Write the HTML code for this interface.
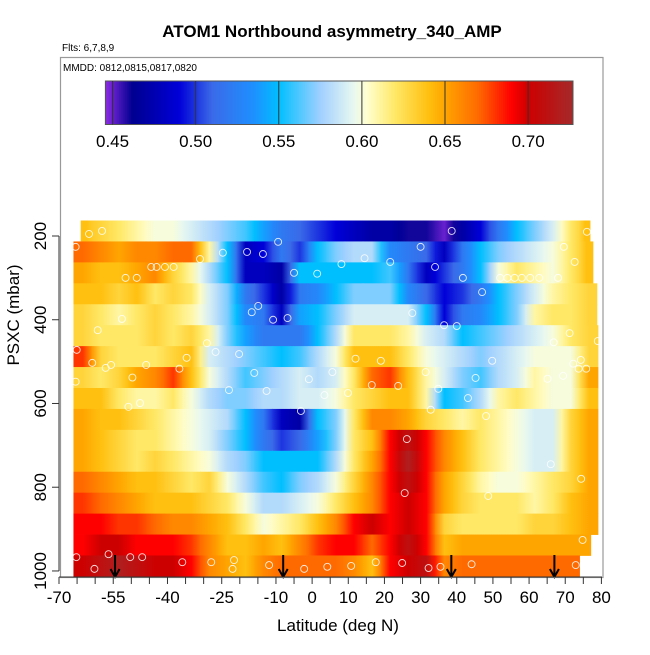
<!DOCTYPE html>
<html><head><meta charset="utf-8"><style>
body{margin:0;background:#fff;}
svg text{font-family:"Liberation Sans",sans-serif;}
</style></head><body>
<svg id="chart" width="650" height="650" xmlns="http://www.w3.org/2000/svg">
<defs id="defs"></defs>
<rect width="650" height="650" fill="#fff"/>
<text x="332" y="37" font-size="17" font-weight="bold" text-anchor="middle">ATOM1 Northbound asymmetry_340_AMP</text>
<text x="62" y="51" font-size="10">Flts: 6,7,8,9</text>
<g id="heat"></g>
<g id="pts"></g>
<g id="arrows"></g>
<rect x="60.5" y="57.5" width="542.5" height="520" fill="none" stroke="#999" stroke-width="1.2"/>
<text x="63" y="71" font-size="10">MMDD: 0812,0815,0817,0820</text>
<g id="cbar"></g>
<g id="axes"></g>
<text x="338" y="631" font-size="17" text-anchor="middle">Latitude (deg N)</text>
<text x="0" y="0" font-size="17" text-anchor="middle" transform="translate(19,315) rotate(-90)">PSXC (mbar)</text>
</svg>
<script>
// rows: pressure centres (mbar), 50 mbar thick
const rowPressures=[188,238,288,338,388,438,488,538,588,638,688,738,788,838,888,938,988];
const rowStart=[-64,-66,-66,-66,-66,-66,-66,-66,-66,-66,-66,-66,-66,-66,-66,-66,-66];
const rowEnd=[76.8,77.6,77.6,78.7,78.7,80,80,80,80,80,80,80,80,80,80,77,73.9];
const colStartLat=-66, colWidth=5;
const r0=[0.64,0.63,0.62,0.61,0.60,0.60,0.59,0.58,0.57,0.56,0.54,0.52,0.51,0.50,0.49,0.48,0.47,0.47,0.46,0.46,0.45,0.47,0.49,0.52,0.55,0.57,0.59,0.62,0.64];
const r1=[0.67,0.66,0.65,0.66,0.66,0.67,0.67,0.61,0.55,0.48,0.49,0.52,0.50,0.55,0.57,0.58,0.58,0.53,0.52,0.51,0.48,0.52,0.55,0.57,0.58,0.59,0.60,0.62,0.64];
const r2=[0.65,0.64,0.64,0.65,0.66,0.63,0.61,0.58,0.55,0.48,0.48,0.47,0.55,0.55,0.55,0.55,0.55,0.56,0.52,0.48,0.50,0.52,0.55,0.60,0.62,0.61,0.60,0.62,0.64];
const r3=[0.64,0.64,0.63,0.64,0.62,0.63,0.62,0.59,0.57,0.52,0.50,0.47,0.52,0.53,0.55,0.57,0.57,0.57,0.53,0.51,0.49,0.50,0.52,0.55,0.57,0.59,0.61,0.62,0.63];
const r4=[0.63,0.62,0.61,0.62,0.63,0.62,0.61,0.59,0.57,0.53,0.52,0.48,0.54,0.55,0.57,0.59,0.59,0.59,0.59,0.55,0.49,0.52,0.53,0.55,0.57,0.61,0.62,0.62,0.63];
const r5=[0.63,0.62,0.62,0.62,0.63,0.62,0.63,0.61,0.57,0.54,0.52,0.52,0.52,0.55,0.58,0.62,0.62,0.62,0.61,0.59,0.58,0.55,0.56,0.57,0.58,0.59,0.60,0.62,0.63];
const r6=[0.68,0.63,0.62,0.62,0.62,0.63,0.64,0.59,0.58,0.57,0.56,0.55,0.56,0.58,0.60,0.64,0.64,0.64,0.62,0.60,0.59,0.58,0.57,0.58,0.59,0.60,0.60,0.60,0.63];
const r7=[0.63,0.62,0.63,0.65,0.66,0.68,0.64,0.60,0.58,0.56,0.57,0.58,0.59,0.58,0.59,0.62,0.67,0.68,0.64,0.61,0.59,0.57,0.56,0.58,0.59,0.61,0.60,0.60,0.65];
const r8=[0.64,0.64,0.62,0.61,0.61,0.62,0.60,0.58,0.57,0.57,0.58,0.58,0.59,0.59,0.60,0.62,0.63,0.64,0.64,0.61,0.55,0.56,0.58,0.61,0.62,0.61,0.60,0.60,0.64];
const r9=[0.65,0.64,0.64,0.63,0.62,0.61,0.60,0.59,0.58,0.55,0.52,0.48,0.47,0.55,0.57,0.62,0.66,0.66,0.65,0.63,0.62,0.61,0.62,0.61,0.60,0.59,0.59,0.63,0.65];
const r10=[0.65,0.64,0.63,0.62,0.62,0.61,0.60,0.59,0.57,0.55,0.52,0.50,0.51,0.54,0.57,0.62,0.64,0.69,0.71,0.69,0.66,0.64,0.62,0.61,0.60,0.59,0.59,0.63,0.65];
const r11=[0.65,0.64,0.63,0.62,0.63,0.62,0.61,0.60,0.58,0.57,0.55,0.55,0.55,0.55,0.58,0.62,0.65,0.69,0.72,0.69,0.66,0.64,0.62,0.61,0.60,0.59,0.59,0.63,0.65];
const r12=[0.67,0.66,0.65,0.64,0.64,0.63,0.62,0.63,0.60,0.58,0.56,0.55,0.57,0.58,0.60,0.63,0.66,0.69,0.71,0.69,0.65,0.63,0.61,0.60,0.60,0.61,0.62,0.63,0.65];
const r13=[0.68,0.67,0.66,0.65,0.64,0.64,0.64,0.63,0.62,0.60,0.58,0.58,0.59,0.60,0.62,0.64,0.66,0.69,0.70,0.69,0.65,0.63,0.62,0.62,0.62,0.61,0.62,0.64,0.65];
const r14=[0.69,0.69,0.68,0.68,0.67,0.66,0.66,0.65,0.64,0.62,0.60,0.61,0.62,0.64,0.66,0.69,0.70,0.69,0.70,0.69,0.63,0.62,0.62,0.62,0.62,0.63,0.63,0.64,0.65];
const r15=[0.69,0.70,0.70,0.69,0.69,0.69,0.68,0.66,0.64,0.64,0.65,0.64,0.66,0.68,0.69,0.69,0.67,0.69,0.71,0.69,0.64,0.65,0.65,0.65,0.65,0.65,0.65,0.65,0.65];
const r16=[0.70,0.71,0.72,0.71,0.70,0.70,0.69,0.66,0.65,0.64,0.66,0.67,0.67,0.67,0.67,0.66,0.64,0.69,0.70,0.71,0.66,0.67,0.67,0.67,0.67,0.67,0.67,0.67,0.67];
const rows=[r0,r1,r2,r3,r4,r5,r6,r7,r8,r9,r10,r11,r12,r13,r14,r15,r16];
const ptLat=[-58.1,-61.7,-65.4,-31,-24.7,-18,-13.6,-9.4,30,38.6,69.6,76,-44.5,-43,-40.7,-38.3,-51.6,-48.5,-5,1.4,8.1,14.5,21.6,34,41.7,52,54,56,58,60.3,62.8,68,72.6,47,-14.9,-16.7,-10.8,-6.8,-52.6,27.7,36.5,40,-59.3,71.2,66.8,79,-29.1,-26.7,-20.2,-34.7,-45.9,-36.7,-49.7,-65.4,12,19,49.8,74.3,72.2,73.7,75.8,-16,-0.9,5.6,16.5,23.8,31.4,45.2,65.1,69.4,-23,-12.6,3.4,9.9,34.9,43.1,-50.8,-47.6,-3.1,32.8,48.1,26.2,66,74.4,25.6,48.7,74.8,-65.2,-56.3,-50.3,-47,-60.2,-35.9,-27.9,-21.6,-22,-11.9,-2.2,4.2,10.8,17.6,24.9,32.2,35.5,44.1,72.9,-65.1,-60.8,-57.1,-55.6];
const ptP=[188,195,226,255,240,238,243,214,226,188,226,190,274,274,274,274,300,300,288,290,267,253,262,274,300,300,300,300,300,300,300,300,262,334,367,382,400,396,398,384,413,415,425,432,454,451,456,477,482,491,508,517,538,548,493,498,498,496,505,517,517,527,542,525,556,558,525,539,541,534,568,570,580,575,565,587,608,599,618,615,630,685,745,780,814,821,926,967,960,967,967,995,979,979,974,995,986,995,990,988,979,981,993,990,984,986,472,503,515,508];
const arrowLat=[-54.5,-8,38.5,67];
const cbTicks=[0.45,0.50,0.55,0.60,0.65,0.70];
const xTicks=[-70,-55,-40,-25,-10,0,10,20,30,40,50,60,70,80];
const yTicks=[200,400,600,800,1000];

const NS="http://www.w3.org/2000/svg";
const xs=lat=>59+(lat+70)*3.616;
const ys=p=>236+(p-200)*0.4187;
const stops=[[0.446,[138,43,226]],[0.462,[0,0,144]],[0.49,[0,0,216]],[0.51,[58,106,232]],[0.535,[30,144,255]],[0.55,[0,191,255]],[0.575,[160,208,255]],[0.595,[232,248,240]],[0.603,[255,255,208]],[0.62,[255,232,102]],[0.64,[255,192,16]],[0.65,[255,165,0]],[0.67,[255,106,0]],[0.69,[255,0,0]],[0.70,[205,0,0]],[0.727,[165,42,42]]];
function col(v){
  if(v<=stops[0][0])return 'rgb('+stops[0][1]+')';
  for(let i=1;i<stops.length;i++){if(v<=stops[i][0]){const a=stops[i-1],b=stops[i];const t=(v-a[0])/(b[0]-a[0]);return 'rgb('+a[1].map((c,k)=>Math.round(c+(b[1][k]-c)*t)).join(',')+')';}}
  return 'rgb('+stops[stops.length-1][1]+')';
}
function mk(tag,attrs,parent){const e=document.createElementNS(NS,tag);for(const k in attrs)e.setAttribute(k,attrs[k]);parent.appendChild(e);return e;}
const heat=document.getElementById('heat');
const defs=document.getElementById('defs');
let gid=0;
rows.forEach((vals,ri)=>{
  const p=rowPressures[ri];
  const y0=ys(p-25),y1=ys(p+25);
  vals.forEach((v,ci)=>{
    let a=colStartLat+ci*colWidth,b=a+colWidth;
    a=Math.max(a,rowStart[ri]);b=Math.min(b,rowEnd[ri]);
    if(b<=a)return;
    const prev=ci>0?vals[ci-1]:v, next=ci<vals.length-1?vals[ci+1]:v;
    const id='g'+(gid++);
    const g=mk('linearGradient',{id:id,x1:0,x2:1,y1:0,y2:0},defs);
    mk('stop',{offset:0,'stop-color':col((prev+v)/2)},g);
    mk('stop',{offset:0.5,'stop-color':col(v)},g);
    mk('stop',{offset:1,'stop-color':col((next+v)/2)},g);
    const r=mk('rect',{x:xs(a),y:y0,width:xs(b)-xs(a)+0.6,height:y1-y0+0.4,fill:`url(#${id})`},heat);
    
    
  });
});
const pts=document.getElementById('pts');
ptLat.forEach((lat,i)=>{
  const c=mk('circle',{cx:xs(lat),cy:ys(ptP[i]),r:3.5,fill:'none',stroke:'#fff','stroke-width':0.9,'stroke-opacity':0.85},pts);
  
  
});
const ar=document.getElementById('arrows');
arrowLat.forEach(lat=>{
  const x=xs(lat);
  const g=mk('g',{},ar);
  
  
  mk('line',{x1:x,y1:555,x2:x,y2:576,stroke:'#000','stroke-width':2},g);
  mk('path',{d:`M${x-4.5},${569} L${x},${577} L${x+4.5},${569}`,fill:'none',stroke:'#000','stroke-width':2},g);
});
// colorbar
const cb=document.getElementById('cbar');
const cbL=105.4,cbR=573,vmin=0.4457,vmax=0.727;
const cx=v=>cbL+(v-vmin)/(vmax-vmin)*(cbR-cbL);
for(let i=0;i<234;i++){
  const v=vmin+(vmax-vmin)*(i+0.5)/234;
  const r=mk('rect',{x:cbL+i*(cbR-cbL)/234,y:81,width:(cbR-cbL)/234+0.5,height:43.5,fill:col(v)},cb);
  
  
}
mk('rect',{x:cbL,y:81,width:cbR-cbL,height:43.5,fill:'none',stroke:'#555','stroke-width':1},cb);
cbTicks.forEach(v=>{
  const x=cx(v);
  mk('line',{x1:x,y1:81,x2:x,y2:124.5,stroke:'#333','stroke-width':1},cb);
  const t=mk('text',{x:x,y:147,'font-size':17,'text-anchor':'middle'},cb);
  t.textContent=v.toFixed(2);
  
  
});
// axes
const ax=document.getElementById('axes');
mk('line',{x1:59,y1:577,x2:602,y2:577,stroke:'#333','stroke-width':1},ax);
for(let l=-70;l<=80;l+=5){mk('line',{x1:xs(l),y1:577,x2:xs(l),y2:584,stroke:'#333','stroke-width':1},ax);}
xTicks.forEach(l=>{
  const t=mk('text',{x:xs(l),y:603,'font-size':17,'text-anchor':'middle'},ax);
  t.textContent=l;
  
  
});
mk('line',{x1:59,y1:ys(200),x2:59,y2:ys(1000),stroke:'#333','stroke-width':1},ax);
yTicks.forEach(p=>{
  const y=ys(p);
  mk('line',{x1:52,y1:y,x2:59,y2:y,stroke:'#333','stroke-width':1},ax);
  const t=mk('text',{x:0,y:0,'font-size':17,'text-anchor':'middle',transform:`translate(46,${y}) rotate(-90)`},ax);
  t.textContent=p;
  
  
});
</script>
</body></html>
